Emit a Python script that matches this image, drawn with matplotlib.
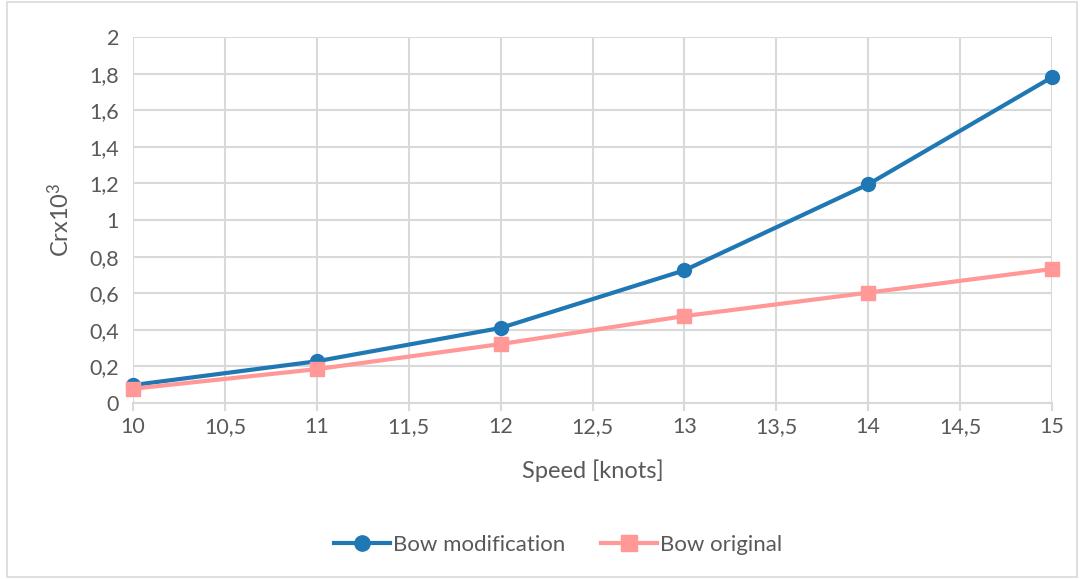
import matplotlib.pyplot as plt
from matplotlib.ticker import FuncFormatter, MultipleLocator
from matplotlib.patches import Rectangle

plt.rcParams['font.family'] = ['Lato', 'DejaVu Sans']
plt.rcParams['mathtext.fontset'] = 'custom'
plt.rcParams['mathtext.rm'] = 'Lato'
plt.rcParams['mathtext.it'] = 'Lato'

speed = [10, 11, 12, 13, 14, 15]
bow_mod = [0.098, 0.228, 0.41, 0.725, 1.195, 1.78]
bow_orig = [0.078, 0.185, 0.322, 0.475, 0.603, 0.732]

txt = '#595959'
grid = '#d9d9d9'

fig = plt.figure(figsize=(10.84, 5.79), dpi=100)
ax = fig.add_axes([133/1084, 1-403/579, (1052-133)/1084, (403-37)/579])

ax.plot(speed, bow_mod, color='#1f77b4', lw=3, marker='o', ms=10, label='Bow modification', zorder=3, clip_on=False)
ax.plot(speed, bow_orig, color='#ff9896', lw=3, marker='s', ms=10, label='Bow original', zorder=3, clip_on=False)

ax.set_xlim(10, 15)
ax.set_ylim(0, 2)
ax.xaxis.set_major_locator(MultipleLocator(0.5))
ax.yaxis.set_major_locator(MultipleLocator(0.2))
fmt = FuncFormatter(lambda v, p: ('%g' % round(v, 2)).replace('.', ','))
ax.xaxis.set_major_formatter(fmt)
ax.yaxis.set_major_formatter(fmt)

ax.grid(True, color=grid, lw=1.5)
ax.set_axisbelow(True)
for s in ['top', 'right', 'left']:
    ax.spines[s].set_visible(False)
ax.spines['bottom'].set_color(grid)
ax.spines['bottom'].set_linewidth(1.5)
ax.tick_params(axis='y', length=0, colors=txt, labelsize=15.5, pad=10)
ax.tick_params(axis='x', length=6, color=grid, width=1.5, colors=txt, labelsize=15.5, pad=4)

ax.set_xlabel('Speed [knots]', color=txt, fontsize=17, labelpad=16)
ax.set_ylabel('Crx10$^{3}$', color=txt, fontsize=17, labelpad=12)

leg = fig.legend(loc='center', bbox_to_anchor=(0.515, 1-545/579), ncol=2, frameon=False,
                 fontsize=16, handlelength=2.5, columnspacing=1.6, handletextpad=0.15, markerscale=1.1)
for t in leg.get_texts():
    t.set_color(txt)

fig.patches.append(Rectangle((7/1084, 2/579), 1-14/1084, 1-4/579, transform=fig.transFigure,
                             fill=False, edgecolor=grid, lw=1.2))

fig.savefig('out.png', dpi=100)
